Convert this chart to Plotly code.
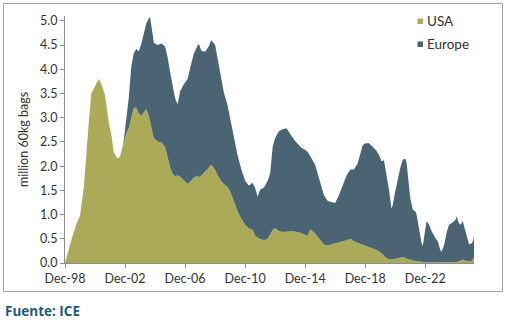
import plotly.graph_objects as go

# Certified stocks held in ICE warehouses, end of period
dates = [
    "1998-12-01", "1999-03-01", "1999-06-01", "1999-09-01", "1999-12-01", "2000-03-01",
    "2000-05-01", "2000-07-01", "2000-09-01", "2000-12-01", "2001-03-01", "2001-05-01",
    "2001-08-01", "2001-11-01", "2002-01-01", "2002-03-01", "2002-06-01", "2002-08-01",
    "2002-10-01", "2002-11-01", "2003-01-01", "2003-03-01", "2003-05-01", "2003-07-01",
    "2003-09-01", "2003-11-01", "2004-01-01", "2004-03-01", "2004-05-01", "2004-07-01",
    "2004-08-01", "2004-09-01", "2004-11-01", "2005-02-01", "2005-05-01", "2005-08-01",
    "2005-10-01", "2005-12-01", "2006-02-01", "2006-04-01", "2006-06-01", "2006-08-01",
    "2006-11-01", "2007-02-01", "2007-04-01", "2007-07-01", "2007-10-01", "2007-11-01",
    "2008-01-01", "2008-04-01", "2008-07-01", "2008-09-01", "2008-12-01", "2009-02-01",
    "2009-04-01", "2009-07-01", "2009-10-01", "2009-12-01", "2010-03-01", "2010-06-01",
    "2010-09-01", "2010-12-01", "2011-03-01", "2011-06-01", "2011-08-01", "2011-10-01",
    "2011-12-01", "2012-03-01", "2012-06-01", "2012-08-01", "2012-10-01", "2012-12-01",
    "2013-03-01", "2013-06-01", "2013-09-01", "2013-12-01", "2014-03-01", "2014-06-01",
    "2014-09-01", "2014-12-01", "2015-02-01", "2015-04-01", "2015-06-01", "2015-08-01",
    "2015-10-01", "2015-12-01", "2016-03-01", "2016-06-01", "2016-09-01", "2016-12-01",
    "2017-03-01", "2017-06-01", "2017-09-01", "2017-12-01", "2018-03-01", "2018-06-01",
    "2018-08-01", "2018-10-01", "2018-12-01", "2019-03-01", "2019-06-01", "2019-09-01",
    "2019-12-01", "2020-01-01", "2020-03-01", "2020-05-01", "2020-07-01", "2020-09-01",
    "2020-10-01", "2020-12-01", "2021-02-01", "2021-04-01", "2021-06-01", "2021-08-01",
    "2021-09-01", "2021-11-01", "2021-12-01", "2022-02-01", "2022-04-01", "2022-05-01",
    "2022-07-01", "2022-09-01", "2022-10-01", "2022-12-01", "2023-01-01", "2023-03-01",
    "2023-05-01", "2023-08-01", "2023-10-01", "2023-12-01", "2024-01-01", "2024-03-01",
    "2024-05-01", "2024-07-01", "2024-09-01", "2024-12-01", "2025-01-01", "2025-03-01",
    "2025-04-01", "2025-06-01", "2025-08-01", "2025-09-01", "2025-11-01", "2026-01-01",
    "2026-02-01", "2026-03-01",
]

# million 60kg bags
usa = [
    0.00, 0.29, 0.55, 0.80, 0.97, 1.55, 2.30, 2.90, 3.50, 3.64, 3.80, 3.70,
    3.47, 2.89, 2.65, 2.28, 2.16, 2.20, 2.38, 2.52, 2.68, 2.78, 2.97, 3.20,
    3.21, 3.08, 3.04, 3.12, 3.18, 3.03, 2.92, 2.82, 2.58, 2.51, 2.49, 2.40,
    2.18, 1.98, 1.84, 1.79, 1.81, 1.78, 1.71, 1.63, 1.68, 1.76, 1.80, 1.77,
    1.80, 1.89, 1.96, 2.03, 1.92, 1.82, 1.72, 1.63, 1.57, 1.48, 1.28, 1.07,
    0.91, 0.79, 0.72, 0.68, 0.57, 0.52, 0.50, 0.47, 0.50, 0.58, 0.68, 0.72,
    0.66, 0.64, 0.65, 0.65, 0.65, 0.63, 0.62, 0.58, 0.57, 0.69, 0.66, 0.61,
    0.55, 0.48, 0.38, 0.36, 0.38, 0.40, 0.42, 0.45, 0.47, 0.50, 0.45, 0.42,
    0.40, 0.38, 0.36, 0.33, 0.31, 0.27, 0.22, 0.20, 0.15, 0.10, 0.08, 0.08,
    0.08, 0.09, 0.10, 0.11, 0.12, 0.11, 0.09, 0.08, 0.07, 0.05, 0.04, 0.04,
    0.03, 0.02, 0.02, 0.01, 0.01, 0.01, 0.01, 0.01, 0.01, 0.01, 0.01, 0.01,
    0.01, 0.02, 0.02, 0.02, 0.02, 0.03, 0.05, 0.07, 0.05, 0.04, 0.04, 0.04,
    0.07, 0.12,
]

europe = [
    0.00, 0.00, 0.00, 0.00, 0.00, 0.00, 0.00, 0.00, 0.00, 0.00, 0.00, 0.00,
    0.00, 0.00, 0.00, 0.00, 0.00, 0.00, 0.00, 0.02, 0.27, 0.62, 1.08, 1.13,
    1.21, 1.29, 1.48, 1.60, 1.77, 2.02, 2.16, 2.08, 1.97, 1.99, 2.04, 2.07,
    2.07, 1.97, 1.81, 1.61, 1.47, 1.76, 1.98, 2.17, 2.34, 2.56, 2.69, 2.75,
    2.58, 2.47, 2.52, 2.57, 2.58, 2.38, 2.16, 1.89, 1.68, 1.51, 1.26, 1.15,
    1.02, 0.91, 0.88, 0.97, 0.98, 0.85, 1.01, 1.09, 1.20, 1.27, 1.72, 1.86,
    2.06, 2.12, 2.13, 2.01, 1.90, 1.83, 1.76, 1.76, 1.72, 1.52, 1.47, 1.42,
    1.30, 1.19, 1.02, 0.92, 0.88, 0.84, 0.98, 1.15, 1.33, 1.43, 1.48, 1.64,
    1.82, 2.05, 2.11, 2.14, 2.09, 2.05, 1.96, 1.90, 1.97, 1.76, 1.44, 1.04,
    1.12, 1.39, 1.66, 1.85, 2.01, 2.04, 1.99, 1.52, 1.27, 1.05, 1.03, 0.97,
    0.65, 0.40, 0.33, 0.71, 0.85, 0.79, 0.65, 0.51, 0.44, 0.26, 0.22, 0.35,
    0.61, 0.77, 0.80, 0.87, 0.94, 0.79, 0.74, 0.79, 0.63, 0.51, 0.34, 0.37,
    0.37, 0.44,
]

tick_dates = ["1998-12-01", "2002-12-01", "2006-12-01", "2010-12-01",
              "2014-12-01", "2018-12-01", "2022-12-01"]
tick_labels = ["Dec-98", "Dec-02", "Dec-06", "Dec-10", "Dec-14", "Dec-18", "Dec-22"]
y_ticks = [0.0, 0.5, 1.0, 1.5, 2.0, 2.5, 3.0, 3.5, 4.0, 4.5, 5.0]

USA_COLOR = "#ABAA58"
EUROPE_COLOR = "#4A6474"
TEXT_COLOR = "#333333"
AXIS_COLOR = "#8C8C8C"
FONT = "Lato, 'Liberation Sans', sans-serif"

W, H = 513, 323
M_L, M_R, M_T, M_B = 65, 39, 16, 60
PW, PH = W - M_L - M_R, H - M_T - M_B


def px_to_paper_x(px):
    return (px - M_L) / PW


def px_to_paper_y(py):
    return (H - M_B - py) / PH


fig = go.Figure()

fig.add_trace(go.Scatter(
    x=dates, y=usa, name="USA", stackgroup="stocks", mode="lines",
    line=dict(width=0, color=USA_COLOR), fillcolor=USA_COLOR,
))
fig.add_trace(go.Scatter(
    x=dates, y=europe, name="Europe", stackgroup="stocks", mode="lines",
    line=dict(width=0, color=EUROPE_COLOR), fillcolor=EUROPE_COLOR,
))

# legend: small square key followed by the series name
for name, color, row_y in [("USA", USA_COLOR, 21), ("Europe", EUROPE_COLOR, 44)]:
    fig.add_shape(
        type="rect", xref="paper", yref="paper",
        x0=px_to_paper_x(417.5), x1=px_to_paper_x(423),
        y0=px_to_paper_y(row_y + 3), y1=px_to_paper_y(row_y - 2.5),
        line=dict(width=0), fillcolor=color,
    )
    fig.add_annotation(
        text=name, xref="paper", yref="paper",
        x=px_to_paper_x(425), y=px_to_paper_y(row_y), xanchor="left", yanchor="middle",
        showarrow=False, font=dict(size=13.5, color=TEXT_COLOR),
    )

# outer frame around the chart
fig.add_shape(
    type="rect", xref="paper", yref="paper",
    x0=px_to_paper_x(3.5), x1=px_to_paper_x(502.5),
    y0=px_to_paper_y(291.5), y1=px_to_paper_y(3.5),
    line=dict(color="#A6A6A6", width=1), fillcolor="rgba(0,0,0,0)", layer="below",
)

fig.add_annotation(
    text="<b>Fuente: ICE</b>", xref="paper", yref="paper",
    x=px_to_paper_x(3), y=px_to_paper_y(311), xanchor="left", yanchor="middle",
    showarrow=False, font=dict(family="'Open Sans', sans-serif", size=13.5, color="#1F5A7A"),
)

fig.update_layout(
    width=W, height=H,
    margin=dict(l=M_L, r=M_R, t=M_T, b=M_B),
    paper_bgcolor="white", plot_bgcolor="white",
    font=dict(family=FONT, size=12, color=TEXT_COLOR),
    showlegend=False,
    xaxis=dict(
        type="date", range=["1998-12-01", "2026-03-01"],
        tickvals=tick_dates, ticktext=tick_labels,
        showgrid=False, zeroline=False,
        showline=True, linecolor=AXIS_COLOR, linewidth=1,
        ticks="outside", ticklen=4, tickcolor=AXIS_COLOR,
        tickfont=dict(size=12.5, color=TEXT_COLOR),
    ),
    yaxis=dict(
        range=[0, 5.1], tickvals=y_ticks, tickformat=".1f",
        showgrid=False, zeroline=False,
        showline=True, linecolor=AXIS_COLOR, linewidth=1,
        ticks="outside", ticklen=4, tickcolor=AXIS_COLOR,
        tickfont=dict(size=12.5, color=TEXT_COLOR),
        title=dict(text="million 60kg bags", font=dict(size=12.5, color=TEXT_COLOR), standoff=8),
    ),
)

fig.write_html("out.html")
